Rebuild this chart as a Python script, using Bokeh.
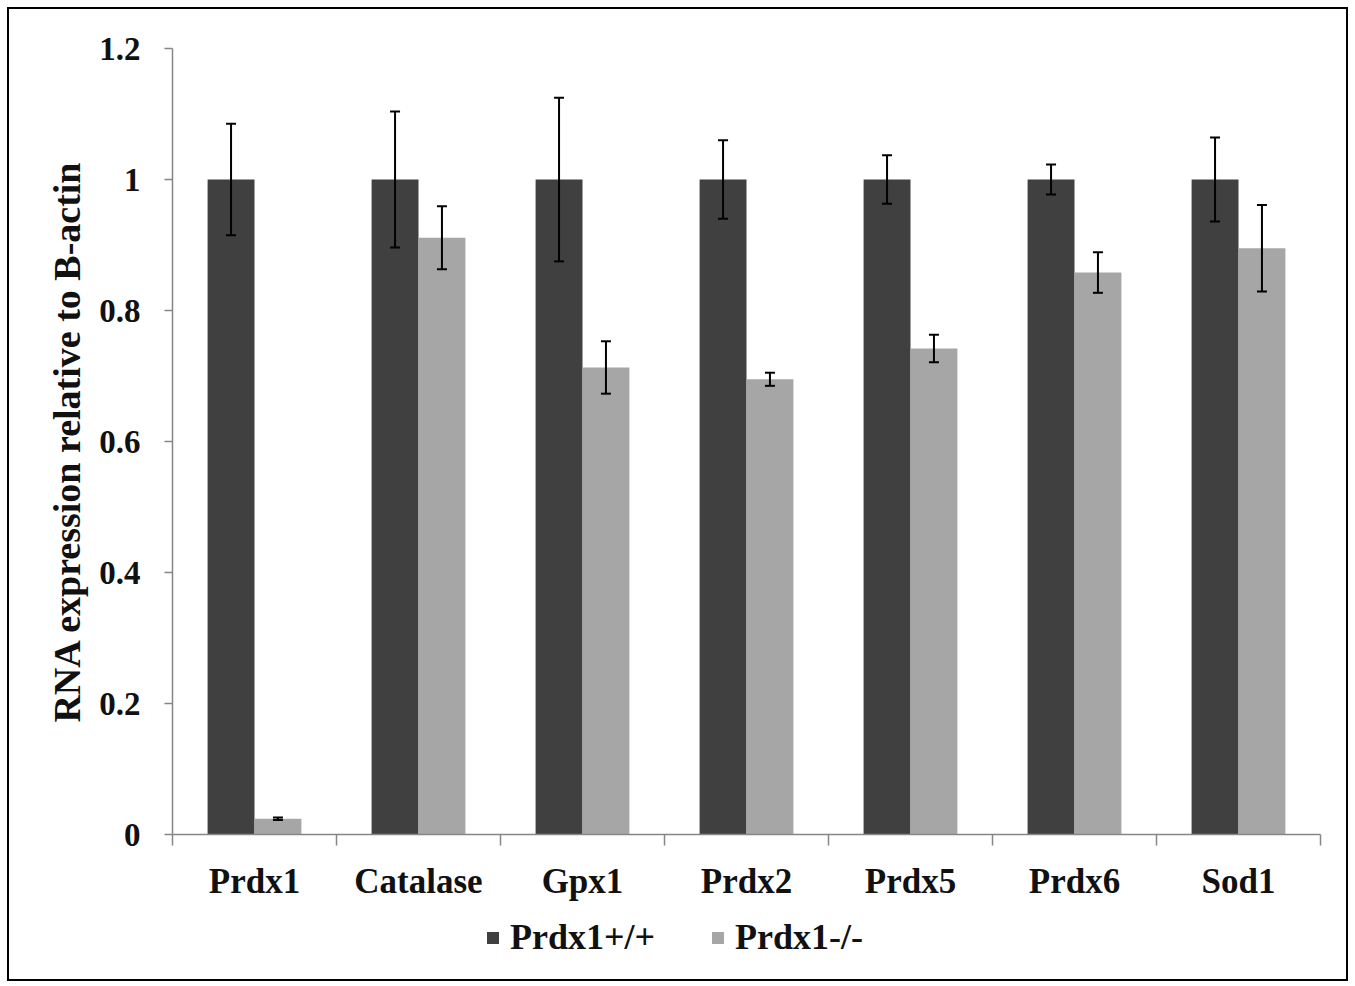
import numpy as np
from bokeh.plotting import figure
from bokeh.layouts import column
from bokeh.models import (ColumnDataSource, Whisker, TeeHead, FixedTicker, Legend, LegendItem,
                          CustomJSTickFormatter, Range1d)
from bokeh.embed import file_html
from bokeh.resources import INLINE

categories = ["Prdx1", "Catalase", "Gpx1", "Prdx2", "Prdx5", "Prdx6", "Sod1"]
wt_values = [1.0, 1.0, 1.0, 1.0, 1.0, 1.0, 1.0]
wt_errors = [0.085, 0.104, 0.125, 0.060, 0.037, 0.023, 0.064]
ko_values = [0.024, 0.911, 0.713, 0.695, 0.742, 0.858, 0.895]
ko_errors = [0.002, 0.048, 0.040, 0.010, 0.021, 0.031, 0.066]
series_names = ["Prdx1+/+", "Prdx1-/-"]
y_ticks = [0, 0.2, 0.4, 0.6, 0.8, 1.0, 1.2]

FONT = "Liberation Serif"
DARK = "#404040"
LIGHT = "#a6a6a6"
AXIS_GRAY = "#868686"

n = len(categories)
centers = np.arange(n) + 0.5
offset = 0.143
bar_w = 0.286

wt = ColumnDataSource(dict(x=centers - offset, top=wt_values,
                           upper=np.array(wt_values) + np.array(wt_errors),
                           lower=np.array(wt_values) - np.array(wt_errors)))
ko = ColumnDataSource(dict(x=centers + offset, top=ko_values,
                           upper=np.array(ko_values) + np.array(ko_errors),
                           lower=np.array(ko_values) - np.array(ko_errors)))

p = figure(frame_width=1148, frame_height=786, output_backend="svg", toolbar_location=None,
           x_range=Range1d(0, n), y_range=Range1d(0, 1.2),
           min_border_left=163, min_border_right=26, min_border_top=39, min_border_bottom=71)
p.outline_line_color = None
p.xgrid.visible = False
p.ygrid.visible = False
p.background_fill_color = "white"
p.border_fill_color = "white"

r_wt = p.vbar(x="x", top="top", width=bar_w, source=wt, fill_color=DARK, line_color=None)
r_ko = p.vbar(x="x", top="top", width=bar_w, source=ko, fill_color=LIGHT, line_color=None)

for src in (wt, ko):
    w = Whisker(base="x", upper="upper", lower="lower", source=src, dimension="height",
                line_color="black", line_width=2, level="annotation",
                upper_head=TeeHead(size=10, line_color="black", line_width=2),
                lower_head=TeeHead(size=10, line_color="black", line_width=2))
    p.add_layout(w)

# x axis: labels at category centres, tick marks at category boundaries
xa = p.xaxis[0]
xa.ticker = FixedTicker(ticks=list(centers), minor_ticks=list(range(n + 1)))
xa.major_label_overrides = {float(c): lab for c, lab in zip(centers, categories)}
xa.major_tick_out = 0
xa.major_tick_in = 0
xa.minor_tick_out = 11
xa.minor_tick_in = 0
xa.minor_tick_line_color = AXIS_GRAY
xa.minor_tick_line_width = 1.5
xa.axis_line_color = AXIS_GRAY
xa.axis_line_width = 1.5
xa.major_label_text_font = FONT
xa.major_label_text_font_style = "bold"
xa.major_label_text_font_size = "35px"
xa.major_label_text_color = "#111111"
xa.major_label_standoff = 16

ya = p.yaxis[0]
ya.ticker = FixedTicker(ticks=y_ticks, minor_ticks=[])
ya.formatter = CustomJSTickFormatter(code="return Number(tick.toFixed(1)).toString();")
ya.major_tick_out = 8
ya.major_tick_in = 0
ya.major_tick_line_color = AXIS_GRAY
ya.major_tick_line_width = 1.5
ya.axis_line_color = AXIS_GRAY
ya.axis_line_width = 1.5
ya.major_label_text_font = FONT
ya.major_label_text_font_style = "bold"
ya.major_label_text_font_size = "33px"
ya.major_label_text_color = "#111111"
ya.major_label_standoff = 24
ya.axis_label = "RNA expression relative to B-actin"
ya.axis_label_text_font = FONT
ya.axis_label_text_font_style = "bold"
ya.axis_label_text_font_size = "38px"
ya.axis_label_text_color = "#111111"
ya.axis_label_standoff = 8

# legend strip below the chart, using the same series renderers (bars fall outside its y range)
leg_fig = figure(width=1337, height=74, output_backend="svg", toolbar_location=None,
                 x_range=p.x_range, y_range=Range1d(2, 3),
                 x_axis_location=None, y_axis_location=None, min_border=0)
leg_fig.outline_line_color = None
leg_fig.xgrid.visible = False
leg_fig.ygrid.visible = False
leg_fig.border_fill_color = "white"
l_wt = leg_fig.vbar(x="x", top="top", width=bar_w, source=wt, fill_color=DARK, line_color=None)
l_ko = leg_fig.vbar(x="x", top="top", width=bar_w, source=ko, fill_color=LIGHT, line_color=None)

legend = Legend(items=[LegendItem(label=series_names[0], renderers=[l_wt]),
                       LegendItem(label=series_names[1], renderers=[l_ko])],
                orientation="horizontal", location=(313, 21),
                glyph_width=15, glyph_height=15, label_standoff=10, spacing=55,
                label_text_font=FONT, label_text_font_style="bold",
                label_text_font_size="36px", label_text_color="#111111",
                border_line_color=None, background_fill_alpha=0,
                margin=0, padding=6)
leg_fig.add_layout(legend, "center")

page = column(p, leg_fig, spacing=0,
              styles={"border": "2px solid black", "margin": "7px", "background-color": "white"})

open("out.html", "w").write(file_html(page, INLINE))
